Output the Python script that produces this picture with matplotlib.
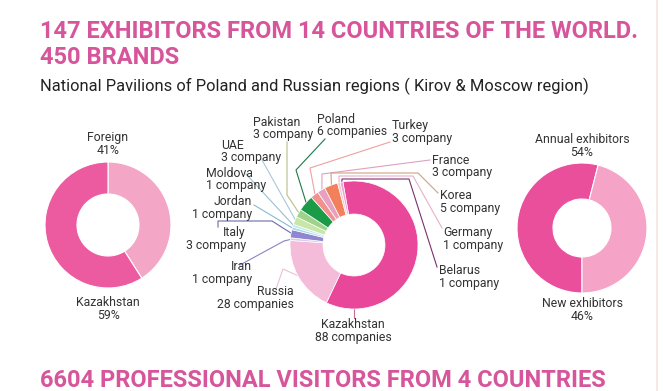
import matplotlib
matplotlib.use('Agg')
import matplotlib.pyplot as plt
from matplotlib import font_manager
import numpy as np

W, H = 663, 391

# textos
titulo1 = '147 EXHIBITORS FROM 14 COUNTRIES OF THE WORLD.'
titulo2 = '450 BRANDS'
subtitulo = 'National Pavilions of Poland and Russian regions ( Kirov & Moscow region)'
titulo3 = '6604 PROFESSIONAL VISITORS FROM 4 COUNTRIES'

# donut izquierdo: origen de los expositores
origen_labels = ['Foreign', 'Kazakhstan']
origen_pct = [41, 59]

# donut derecho: tipo de expositor
tipo_labels = ['Annual exhibitors', 'New exhibitors']
tipo_pct = [54, 46]

# donut central: empresas por pais
paises = ['Kazakhstan', 'Russia', 'Iran', 'Italy', 'Jordan', 'Moldova', 'UAE',
          'Pakistan', 'Poland', 'Turkey', 'France', 'Korea', 'Germany', 'Belarus']
empresas = [88, 28, 1, 3, 1, 1, 3, 3, 6, 3, 3, 5, 1, 1]
unidades = ['companies', 'companies', 'company', 'company', 'company', 'company', 'company',
            'company', 'companies', 'company', 'company', 'company', 'company', 'company']

colores = ['#E9489A', '#F4BCD9', '#DCCDEE', '#8F86CF', '#A8D5F0', '#C2EAEA', '#C8E6A8',
           '#9FD38C', '#1B9B48', '#F0908F', '#E8A0C0', '#F2805A', '#F6C6DA', '#EFA2C8']
colores_linea = ['#C07090', '#E8C0D8', '#9080C0', '#6A6AB0', '#88B8D8', '#9AC0D0', '#A8C8D8',
                 '#B8C08A', '#1B7A48', '#F0A0A0', '#E0A0C0', '#D0A080', '#E8B0C8', '#7A3070']

# posicion de la etiqueta (pixeles de la imagen), alineacion y recorrido de la linea guia
etiquetas = {
    'Kazakhstan': (353, 331, 'center', [(354, 318)]),
    'Russia':     (294, 298, 'right', [(276, 289), (283, 269)]),
    'Iran':       (252, 273, 'right', [(240, 265), (284, 241)]),
    'Italy':      (246, 239, 'right', [(218, 227), (218, 221), (272, 221)]),
    'Jordan':     (252, 208, 'right', [(254, 205)]),
    'Moldova':    (206, 179.5, 'left', [(246, 174)]),
    'UAE':        (221, 151.5, 'left', [(262, 160)]),
    'Pakistan':   (253, 128.5, 'left', [(287, 142), (287, 195)]),
    'Poland':     (317, 125.5, 'left', [(325, 139), (296, 170)]),
    'Turkey':     (392, 132, 'left', [(390, 142), (310, 168)]),
    'France':     (432, 166.5, 'left', [(430, 160), (322, 174)]),
    'Korea':      (440, 202, 'left', [(438, 193), (418, 173), (331, 173)]),
    'Germany':    (443, 239, 'left', [(442, 228), (413, 176), (339, 176)]),
    'Belarus':    (439, 277, 'left', [(437, 267), (409, 179), (342, 179)]),
}

nombres = {f.name for f in font_manager.fontManager.ttflist}
fuente_titulo = 'Liberation Sans Narrow' if 'Liberation Sans Narrow' in nombres else 'Roboto'
fuente = 'Roboto' if 'Roboto' in nombres else 'DejaVu Sans'
rosa = '#D6559B'
gris = '#333333'


def Y(y):
    # pasa de coordenada de imagen (hacia abajo) a la del eje (hacia arriba)
    return H - y


fig = plt.figure(figsize=(W / 100, H / 100), dpi=100)
ax = fig.add_axes([0, 0, 1, 1])

# titulos
ax.text(40, Y(31), titulo1, fontsize=17, fontweight='bold', color=rosa,
        family=fuente_titulo, va='center', ha='left')
ax.text(40, Y(57), titulo2, fontsize=17, fontweight='bold', color=rosa,
        family=fuente_titulo, va='center', ha='left')
ax.text(40, Y(86), subtitulo, fontsize=11.9, color='#222222',
        family=fuente_titulo, va='center', ha='left')
ax.text(40, Y(369), titulo3, fontsize=17, fontweight='bold', color=rosa,
        family=fuente_titulo, va='top', ha='left')

# donut izquierdo
ax.pie(origen_pct, colors=['#F4A6C6', '#EC5BA0'], startangle=90, counterclock=False,
       center=(108, Y(225)), radius=63,
       wedgeprops=dict(width=32, edgecolor='white', linewidth=0.8))
ax.text(108, Y(144), f'{origen_labels[0]}\n{origen_pct[0]}%', ha='center', va='center',
        fontsize=8.8, color=gris, family=fuente, linespacing=0.95)
ax.text(108, Y(309), f'{origen_labels[1]}\n{origen_pct[1]}%', ha='center', va='center',
        fontsize=8.8, color=gris, family=fuente, linespacing=0.95)

# donut derecho
ax.pie(tipo_pct, colors=['#EA4F9C', '#F5A3C6'], startangle=270, counterclock=False,
       center=(582, Y(228)), radius=65,
       wedgeprops=dict(width=36, edgecolor='white', linewidth=0.8))
ax.text(582, Y(146), f'{tipo_labels[0]}\n{tipo_pct[0]}%', ha='center', va='center',
        fontsize=8.8, color=gris, family=fuente, linespacing=0.95)
ax.text(582, Y(310), f'{tipo_labels[1]}\n{tipo_pct[1]}%', ha='center', va='center',
        fontsize=8.8, color=gris, family=fuente, linespacing=0.95)

# donut central
cx, cy, R = 354, Y(245), 64
cunas, _ = ax.pie(empresas, colors=colores, startangle=100, counterclock=False,
                  center=(cx, cy), radius=R,
                  wedgeprops=dict(width=33, edgecolor='white', linewidth=0.5))

for i, (pais, n, uni) in enumerate(zip(paises, empresas, unidades)):
    x, y, ha, camino = etiquetas[pais]
    ax.text(x, Y(y), f'{pais}\n{n} {uni}', ha=ha, va='center', multialignment=ha,
            fontsize=8.8, color=gris, family=fuente, linespacing=0.95)
    w = cunas[i]
    ang = (w.theta1 + w.theta2) / 2
    if pais == 'Kazakhstan':
        ang = -90  # la linea sale por abajo
    px = cx + R * 0.98 * np.cos(np.radians(ang))
    py = cy + R * 0.98 * np.sin(np.radians(ang))
    xs = [p[0] for p in camino] + [px]
    ys = [Y(p[1]) for p in camino] + [py]
    ax.plot(xs, ys, color=colores_linea[i], lw=0.8, zorder=0.5)

# borde de la pagina a la derecha
ax.plot([657, 657], [0, H], color='#F5E4DE', lw=1.2)

ax.set_xlim(0, W)
ax.set_ylim(0, H)
ax.set_aspect('equal')
ax.axis('off')

plt.savefig('out.png', dpi=100, facecolor='white')
